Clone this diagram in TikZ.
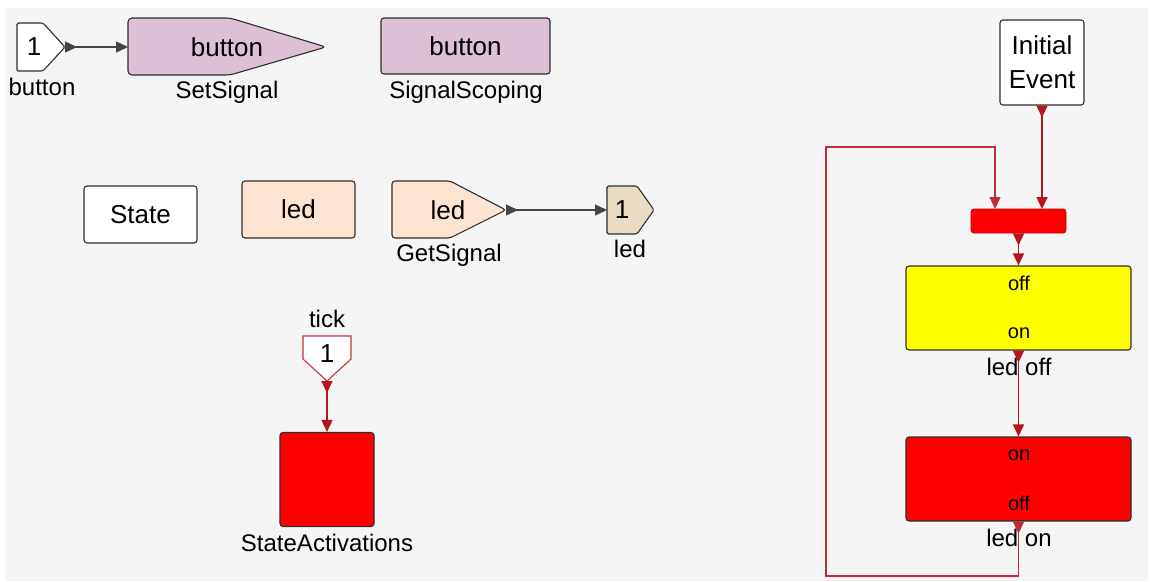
\documentclass[tikz,border=0pt]{standalone}
\usepackage{fontspec}
\setmainfont{Liberation Sans}
\usetikzlibrary{arrows.meta}
\definecolor{bggray}{HTML}{F5F5F5}
\definecolor{bordercol}{HTML}{2E2E2E}
\definecolor{conngray}{HTML}{454545}
\definecolor{arrowred}{HTML}{B8141E}
\definecolor{portred}{HTML}{C8323C}
\definecolor{mauve}{HTML}{DCC0D5}
\definecolor{peach}{HTML}{FCE3D2}
\definecolor{beige}{HTML}{E9DCC3}
\definecolor{stateyellow}{HTML}{FFFF00}
\begin{document}
\begin{tikzpicture}[x=1pt,y=-1pt,
  box/.style={draw=bordercol, line width=1.1pt, rounded corners=3pt, inner sep=0pt,
    font=\fontsize{26}{34}\selectfont, align=center},
  shp/.style={draw=bordercol, line width=1.1pt},
  txt/.style={inner sep=0pt, font=\fontsize{26}{30}\selectfont},
  lbl/.style={inner sep=0pt, font=\fontsize{24}{28}\selectfont},
  stxt/.style={inner sep=0pt, font=\fontsize{20}{24}\selectfont},
  conn/.style={draw=conngray, line width=1.4pt,
    {Triangle[reversed,length=12pt,width=11pt]}-{Triangle[length=12pt,width=11pt]}},
  rconn/.style={conn, draw=arrowred, line width=1.6pt},
  fb/.style={draw=arrowred!90!white, line width=1.2pt,
    {Triangle[reversed,length=12pt,width=11pt]}-{Triangle[length=12pt,width=11pt]}}
]
\useasboundingbox (0,0) rectangle (1150,581);
\fill[white] (0,0) rectangle (1150,581);
\fill[bggray] (5,8) rectangle (1148,581);

% ---- input port "button"
\draw[shp, fill=white, rounded corners=1.5pt] (17,23) -- (43,23) -- (65,47) -- (43,71) -- (17,71) -- cycle;
\coordinate (inTip) at (65,47);
\node[txt] (inNum) at (34,47) {1};
\node[lbl] (inLbl) at (42,87) {button};

% ---- SetSignal
\draw[shp, fill=mauve, rounded corners=4pt] (128,18) -- (230,18) -- (326,47) -- (230,75) -- (128,75) -- cycle;
\coordinate (setIn) at (128,47);
\node[txt] (setTxt) at (227,47) {button};
\node[lbl] (setLbl) at (227,92) {SetSignal};
\draw[conn] (inTip) -- (setIn);

% ---- SignalScoping
\node[box, fill=mauve, minimum width=169pt, minimum height=56pt] (scoping) at (465.5,46) {button};
\node[lbl] (scopLbl) at (466,92) {SignalScoping};

% ---- State, led store
\node[box, fill=white, minimum width=113pt, minimum height=57pt] (state) at (140.5,214.5) {State};
\node[box, fill=peach, minimum width=113pt, minimum height=57pt] (ledstore) at (298.5,209.5) {led};

% ---- GetSignal
\draw[shp, fill=peach, rounded corners=3pt] (392,181) -- (450,181) -- (506,210) -- (450,238) -- (392,238) -- cycle;
\coordinate (getOut) at (506,210);
\node[txt] (getTxt) at (448,210) {led};
\node[lbl] (getLbl) at (449,255) {GetSignal};

% ---- output port led
\draw[shp, fill=beige, rounded corners=1.5pt] (607,186) -- (637,186) -- (654,210) -- (637,234) -- (607,234) -- cycle;
\coordinate (outIn) at (607,210);
\node[txt] (outNum) at (622,210) {1};
\node[lbl] (outLbl) at (630,249) {led};
\draw[conn] (getOut) -- (outIn);

% ---- tick port
\node[lbl] (tickLbl) at (327,319) {tick};
\draw[draw=portred, line width=1.1pt, fill=white] (303,336) -- (351,336) -- (351,359) -- (327,381) -- (303,359) -- cycle;
\coordinate (tickTip) at (327,381);
\node[txt] (tickNum) at (327,354) {1};

% ---- StateActivations
\node[box, fill=red, minimum width=94pt, minimum height=94pt] (act) at (327,479.5) {};
\node[lbl] (actLbl) at (327,543) {StateActivations};
\draw[rconn] (tickTip) -- (act.north);

% ---- right side
\node[box, fill=white, minimum width=84pt, minimum height=85pt] (init) at (1042,62.5) {Initial\\Event};
\node[draw=red!75!black, line width=0.8pt, fill=red, rounded corners=3pt, minimum width=95pt, minimum height=24pt, inner sep=0pt] (merge) at (1018.5,221) {};
\coordinate (mergeIn1) at (1042,209);
\coordinate (mergeIn2) at (995,209);
\node[box, fill=stateyellow, minimum width=225pt, minimum height=84pt] (ledoff) at (1018.5,308) {};
\node[stxt] (offEntry) at (1019,283) {off};
\node[stxt] (offExit) at (1019,333) {on};
\node[lbl] (offLbl) at (1019,367) {led off};
\node[box, fill=red, minimum width=225pt, minimum height=84pt] (ledon) at (1018.5,479) {};
\node[stxt] (onEntry) at (1019,455) {on};
\node[stxt] (onExit) at (1019,503) {off};
\node[lbl] (onLbl) at (1019,538) {led on};

\coordinate (fbA) at (1018.5,576);
\coordinate (fbB) at (826,147);

\draw[rconn] (init.south -| mergeIn1) -- (mergeIn1);
\draw[rconn] (merge.south) -- (ledoff.north);
\draw[rconn] (ledoff.south) -- (ledon.north);
\draw[fb] (ledon.south) -- (fbA) -| (fbB) -| (mergeIn2);
\end{tikzpicture}
\end{document}
